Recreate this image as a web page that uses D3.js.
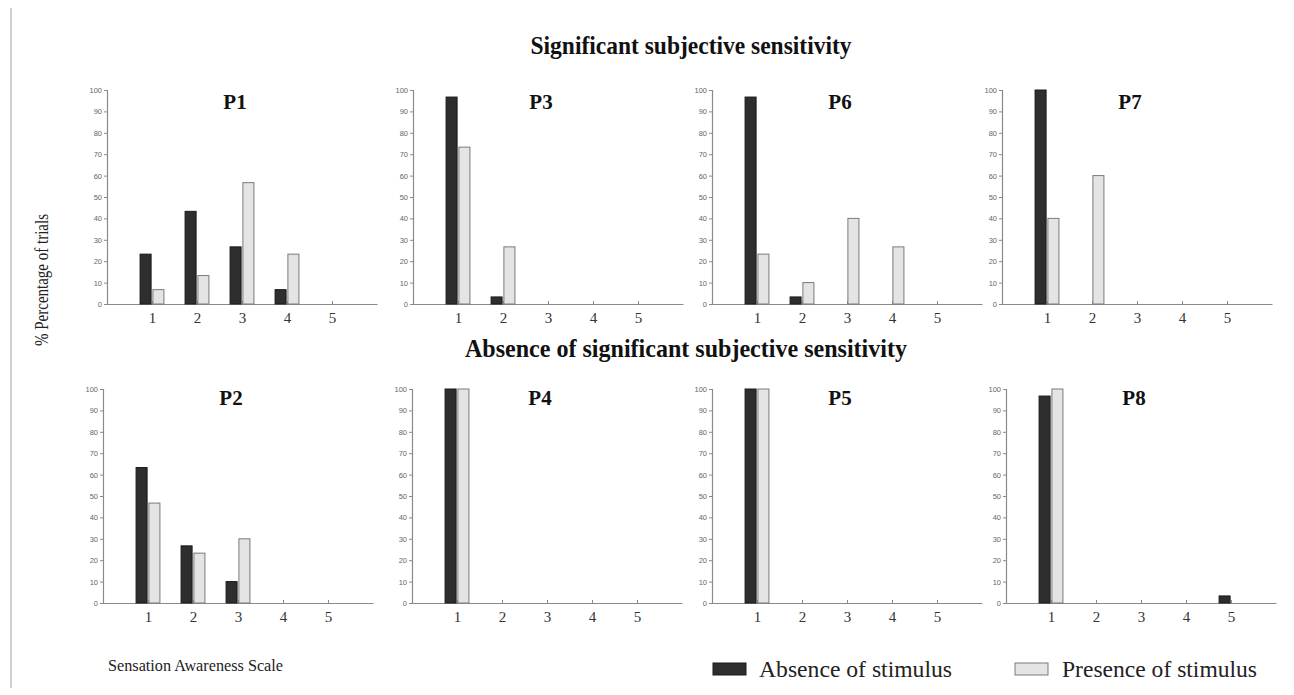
<!DOCTYPE html>
<html>
<head>
<meta charset="utf-8">
<script src="https://cdn.jsdelivr.net/npm/d3@7"></script>
<style>
    body { margin: 0; background: #fff; }
    svg { display: block; }
    .ytick text { font-family: 'Liberation Sans', Arial, sans-serif; font-size: 7.5px; fill: #666; }
    .xtick text { font-family: 'Liberation Serif', 'Times New Roman', serif; font-size: 15px; fill: #333; }
    .domain, .tick line { stroke: #8a8a8a; }
</style>
</head>
<body>
<svg id="chart" width="1294" height="695"></svg>
<script>
var scale = [1, 2, 3, 4, 5];
var participants = ['P1', 'P3', 'P6', 'P7', 'P2', 'P4', 'P5', 'P8'];
var absence = [
    [23.3, 43.3, 26.7, 6.7, 0],
    [96.7, 3.3, 0, 0, 0],
    [96.7, 3.3, 0, 0, 0],
    [100, 0, 0, 0, 0],
    [63.3, 26.7, 10, 0, 0],
    [100, 0, 0, 0, 0],
    [100, 0, 0, 0, 0],
    [96.7, 0, 0, 0, 3.3]
];
var presence = [
    [6.7, 13.3, 56.7, 23.3, 0],
    [73.3, 26.7, 0, 0, 0],
    [23.3, 10, 40, 26.7, 0],
    [40, 60, 0, 0, 0],
    [46.7, 23.3, 30, 0, 0],
    [100, 0, 0, 0, 0],
    [100, 0, 0, 0, 0],
    [100, 0, 0, 0, 0]
];
var yTicks = [0, 10, 20, 30, 40, 50, 60, 70, 80, 90, 100];
var seriesNames = ['Absence of stimulus', 'Presence of stimulus'];

var darkFill = '#2e2e2e', darkStroke = '#1a1a1a';
var lightFill = '#e4e4e4', lightStroke = '#7a7a7a';
var serif = "'Liberation Serif', 'Times New Roman', serif";

var svg = d3.select('#chart');

// left rule
svg.append('line')
    .attr('x1', 11).attr('x2', 11).attr('y1', 8).attr('y2', 688)
    .attr('stroke', '#a0a0a0').attr('stroke-width', 1);

// panel frames
var lefts = [107, 413, 712, 1002, 103, 412, 712, 1006];
var panelWidth = 270;

participants.forEach(function (name, i) {
    var top = i < 4 ? 90 : 389;
    var bottom = i < 4 ? 304 : 603;
    var g = svg.append('g').attr('transform', 'translate(' + lefts[i] + ',0)');

    var x = d3.scaleLinear().domain([0, 6]).range([0, panelWidth]);
    var y = d3.scaleLinear().domain([0, 100]).range([bottom, top]);
    var unit = x(1) - x(0);
    var barW = unit * 0.245;
    var gap = unit * 0.02;

    g.append('g').attr('class', 'ytick')
        .call(d3.axisLeft(y).tickValues(yTicks).tickSize(3).tickPadding(2));

    g.append('g').attr('class', 'xtick')
        .attr('transform', 'translate(0,' + bottom + ')')
        .call(d3.axisBottom(x).tickValues(scale).tickFormat(d3.format('d'))
            .tickSize(-3).tickPadding(0).tickSizeOuter(0))
        .selectAll('.tick text').attr('dy', '1.25em');

    g.selectAll('.domain').attr('stroke-width', 1.2);

    g.append('g').selectAll('rect')
        .data(absence[i].map(function (v, k) { return { c: scale[k], v: v }; }).filter(function (d) { return d.v > 0; }))
        .enter().append('rect')
        .attr('x', function (d) { return x(d.c) - gap - barW; })
        .attr('y', function (d) { return y(d.v); })
        .attr('width', barW)
        .attr('height', function (d) { return y(0) - y(d.v); })
        .attr('fill', darkFill).attr('stroke', darkStroke).attr('stroke-width', 1);

    g.append('g').selectAll('rect')
        .data(presence[i].map(function (v, k) { return { c: scale[k], v: v }; }).filter(function (d) { return d.v > 0; }))
        .enter().append('rect')
        .attr('x', function (d) { return x(d.c) + gap; })
        .attr('y', function (d) { return y(d.v); })
        .attr('width', barW)
        .attr('height', function (d) { return y(0) - y(d.v); })
        .attr('fill', lightFill).attr('stroke', lightStroke).attr('stroke-width', 1);

    g.append('text')
        .attr('x', 128).attr('y', i < 4 ? 109 : 405)
        .attr('text-anchor', 'middle')
        .style('font-family', serif).style('font-weight', 'bold').style('font-size', '21px')
        .attr('fill', '#111')
        .text(name);
});

// section titles
svg.append('text')
    .attr('x', 691).attr('y', 54).attr('text-anchor', 'middle')
    .attr('textLength', 321).attr('lengthAdjust', 'spacingAndGlyphs')
    .style('font-family', serif).style('font-weight', 'bold').style('font-size', '25px')
    .attr('fill', '#111')
    .text('Significant subjective sensitivity');
svg.append('text')
    .attr('x', 686).attr('y', 357).attr('text-anchor', 'middle')
    .attr('textLength', 442).attr('lengthAdjust', 'spacingAndGlyphs')
    .style('font-family', serif).style('font-weight', 'bold').style('font-size', '26px')
    .attr('fill', '#111')
    .text('Absence of significant subjective sensitivity');

// axis titles
svg.append('text')
    .attr('transform', 'translate(48,280) rotate(-90)')
    .attr('text-anchor', 'middle')
    .attr('textLength', 132).attr('lengthAdjust', 'spacingAndGlyphs')
    .style('font-family', serif).style('font-size', '18px')
    .attr('fill', '#222')
    .text('% Percentage of trials');
svg.append('text')
    .attr('x', 108).attr('y', 671)
    .attr('textLength', 175).attr('lengthAdjust', 'spacingAndGlyphs')
    .style('font-family', serif).style('font-size', '17px')
    .attr('fill', '#222')
    .text('Sensation Awareness Scale');

// legend
var legend = svg.append('g').selectAll('g')
    .data(seriesNames)
    .enter().append('g')
    .attr('transform', function (d, i) { return 'translate(' + [713, 1015][i] + ',663)'; });
legend.append('rect')
    .attr('width', 33).attr('height', 12)
    .attr('fill', function (d, i) { return i === 0 ? darkFill : lightFill; })
    .attr('stroke', function (d, i) { return i === 0 ? darkStroke : lightStroke; });
legend.append('text')
    .attr('x', function (d, i) { return i === 0 ? 46 : 47; })
    .attr('y', 14)
    .attr('textLength', function (d, i) { return i === 0 ? 193 : 195; })
    .attr('lengthAdjust', 'spacingAndGlyphs')
    .style('font-family', serif).style('font-size', '24px')
    .attr('fill', '#222')
    .text(function (d) { return d; });
</script>
</body>
</html>
